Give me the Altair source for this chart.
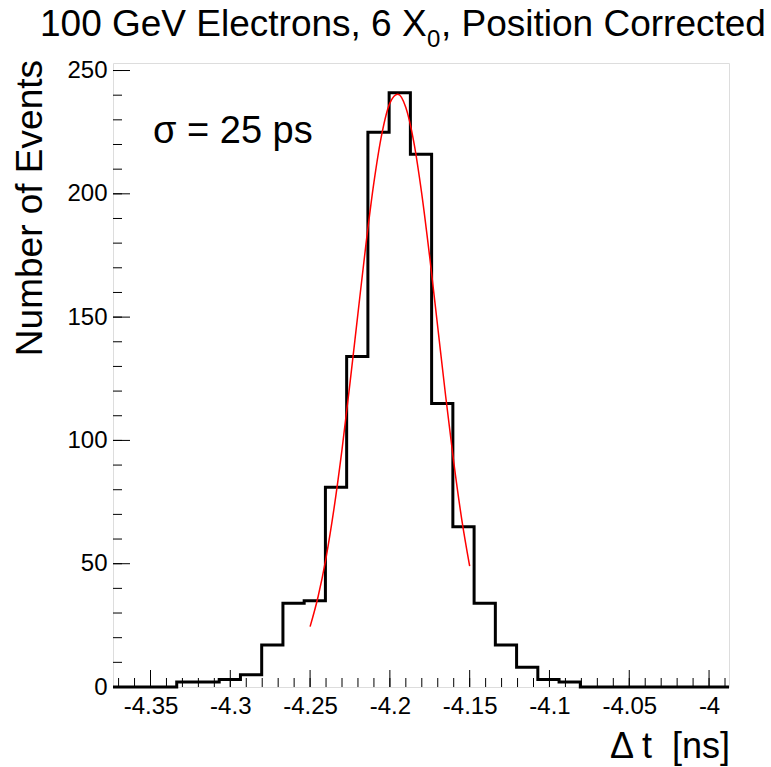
import altair as alt
import pandas as pd
import numpy as np

# ---- data ----
hist_range = (-4.3735, -3.9875)
counts = [0, 0, 0, 2, 2, 3, 5, 17, 34, 35, 81, 134, 225, 241, 216, 115, 65,
          34, 17, 8, 3, 2, 0, 0, 0, 0, 0, 0, 0]

fit_x = [-4.250, -4.245, -4.240, -4.235, -4.230, -4.225, -4.220, -4.215, -4.210,
         -4.205, -4.200, -4.195, -4.190, -4.185, -4.180, -4.175, -4.170, -4.165,
         -4.160, -4.155, -4.150]
fit_y = [24.5, 36.6, 52.4, 72.4, 96.3, 123.2, 151.5, 179.5, 204.6, 224.4, 236.8,
         240.4, 235.0, 221.0, 199.9, 174.1, 145.9, 117.7, 91.3, 68.1, 49.0]

x_major = [-4.35, -4.3, -4.25, -4.2, -4.15, -4.1, -4.05, -4.0]
x_minor = [round(-4.37 + 0.01 * i, 2) for i in range(39)]
y_major = [0, 50, 100, 150, 200, 250]
y_minor = [10 * i for i in range(26)]

title_main = "100 GeV Electrons, 6 X"
title_sub = "0"
title_rest = ", Position Corrected"
x_title = "\u0394 t\u00a0 [ns]"
y_title = "Number of Events"
sigma_text = "\u03c3 = 25 ps"

# ---- layout ----
W, H = 616, 624
FONT = "Liberation Sans"
Y_MAX = 253.05

n_bins = len(counts)
edges = np.linspace(hist_range[0], hist_range[1], n_bins + 1)
hist_df = pd.DataFrame({"x": edges, "y": counts + [0]})
fit_df = pd.DataFrame({"x": fit_x, "y": fit_y})

xs = alt.Scale(domain=list(hist_range), nice=False, zero=False)
ys = alt.Scale(domain=[0, Y_MAX], nice=False, zero=True)

x_axis = alt.Axis(values=x_major, labelExpr="'' + datum.value", ticks=False, tickSize=0,
                  domain=False, grid=False, title=None, labelFont=FONT, labelFontSize=24,
                  labelColor="black", labelPadding=7, labelOverlap=False)
y_axis = alt.Axis(values=y_major, ticks=False, tickSize=0, domain=False, grid=False, title=None,
                  labelFont=FONT, labelFontSize=24, labelColor="black", labelPadding=6)

X = lambda f: alt.X(f, scale=xs, axis=x_axis)
Y = lambda f: alt.Y(f, scale=ys, axis=y_axis)

hist = alt.Chart(hist_df).mark_line(interpolate="step-after", color="black", strokeWidth=3).encode(
    x=X("x:Q"), y=Y("y:Q"))

fit = alt.Chart(fit_df).mark_line(interpolate="monotone", color="#ff0000", strokeWidth=1.5).encode(
    x=X("x:Q"), y=Y("y:Q"))

def xticks(vals, length):
    return alt.Chart(pd.DataFrame({"x": vals})).mark_rule(color="black", strokeWidth=1).encode(
        x=X("x:Q"), y=alt.value(H), y2=alt.value(H - length))

def yticks(vals, length):
    return alt.Chart(pd.DataFrame({"y": vals})).mark_rule(color="black", strokeWidth=1).encode(
        y=Y("y:Q"), x=alt.value(0), x2=alt.value(length))

def label(text, x, y, size, align="left", angle=0):
    return alt.Chart(pd.DataFrame({"t": [text]})).mark_text(
        font=FONT, fontSize=size, align=align, baseline="alphabetic", angle=angle, color="black"
    ).encode(text="t:N", x=alt.value(x), y=alt.value(y))

chart = alt.layer(
    hist, fit,
    xticks(x_minor, 9), xticks(x_major, 17), yticks(y_minor, 9), yticks(y_major, 17),
    label(title_main, -73, -27, 37),
    label(title_sub, 314, -16, 24),
    label(title_rest, 328, -27, 37),
    label(sigma_text, 40, 80, 38),
    label(x_title, 617, 695, 36, align="right"),
    label(y_title, -71, -3, 37, align="right", angle=270),
).properties(
    width=W, height=H, autosize="none",
    padding={"left": 113, "top": 63, "right": 42, "bottom": 80},
).configure_view(stroke="black", strokeWidth=1).configure(background="white")

chart.save("out.html", embed_options={"renderer": "svg", "actions": False})
